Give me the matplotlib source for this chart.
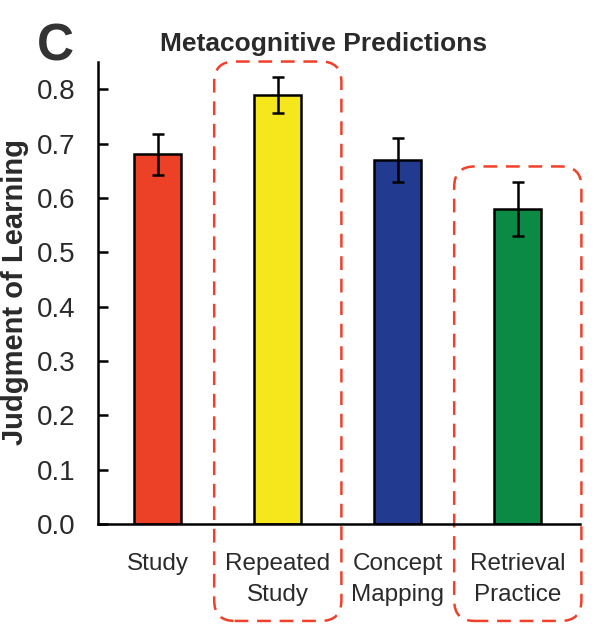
import matplotlib.pyplot as plt
from matplotlib.patches import FancyBboxPatch

plt.rcParams['font.family'] = ['Liberation Sans', 'DejaVu Sans']

# data
conditions = ["Study", "Repeated\nStudy", "Concept\nMapping", "Retrieval\nPractice"]
jol = [0.68, 0.79, 0.67, 0.58]
sem = [0.037, 0.033, 0.040, 0.050]
colors = ["#EC4126", "#F6E71C", "#233A91", "#0B8A45"]
highlighted = [1, 3]
yticks = [0.0, 0.1, 0.2, 0.3, 0.4, 0.5, 0.6, 0.7, 0.8]

fig = plt.figure(figsize=(6, 6.4), dpi=100)
ax = fig.add_axes([0.163, 0.181, 0.804, 0.722])

x = list(range(len(conditions)))
ax.bar(x, jol, width=0.39, color=colors, edgecolor="black", linewidth=1.8, zorder=2)
ax.errorbar(x, jol, yerr=sem, fmt="none", ecolor="black", elinewidth=1.8,
            capsize=4, capthick=1.8, zorder=3)

ax.set_xlim(-0.5, 3.52)
ax.set_ylim(0, 0.85)
ax.set_yticks(yticks)
ax.set_yticklabels([f"{t:.1f}" for t in yticks], fontsize=20, color="#2a2a2a")
ax.set_xticks(x)
ax.set_xticklabels(conditions, fontsize=17.5, color="#2a2a2a", linespacing=1.5)
ax.tick_params(axis="x", length=0, pad=21)
ax.tick_params(axis="y", direction="in", length=7, width=1.8, pad=16)

for side in ["top", "right"]:
    ax.spines[side].set_visible(False)
ax.spines["left"].set_linewidth(1.8)
ax.spines["bottom"].set_linewidth(1.8)

fig.text(0.025, 0.543, "Judgment of Learning", fontsize=21, fontweight="bold",
         rotation=90, ha="center", va="center", color="#2a2a2a")
fig.text(0.54, 0.932, "Metacognitive Predictions", fontsize=19, fontweight="bold",
         ha="center", va="center", color="#2a2a2a")
fig.text(0.062, 0.906, "C", fontsize=37, fontweight="bold", color="#333333")

# dashed rounded highlight boxes
pad = 0.17
aspect = 0.22
for i in highlighted:
    top = jol[i] + sem[i] + 0.028
    bottom = -0.178
    box = FancyBboxPatch((i - 0.53 + pad, bottom + pad * aspect),
                         1.06 - 2 * pad, top - bottom - 2 * pad * aspect,
                         boxstyle=f"round,pad={pad}", mutation_aspect=aspect,
                         fill=False, edgecolor="#F0402A", linestyle=(0, (5.5, 3.5)),
                         linewidth=1.8, clip_on=False, zorder=1)
    ax.add_patch(box)

fig.savefig("out.png", dpi=100)
